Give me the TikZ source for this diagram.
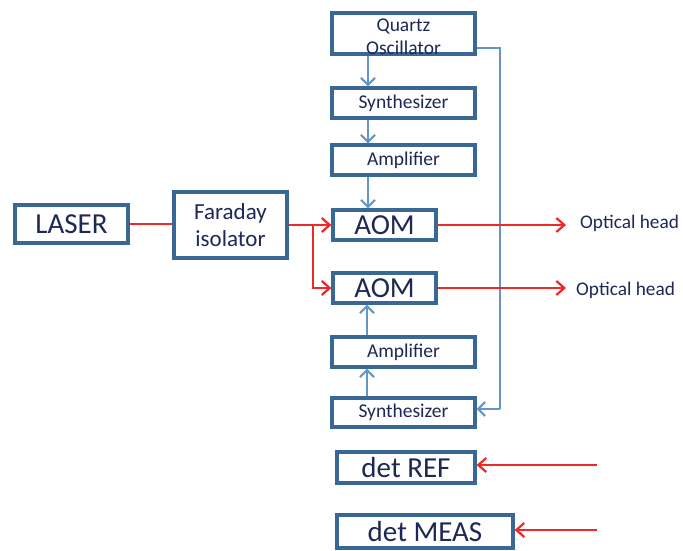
\documentclass[tikz,border=0pt]{standalone}
\usepackage{fontspec}
\setmainfont{Carlito}
\usetikzlibrary{arrows.meta}
\definecolor{boxc}{RGB}{58,104,148}
\definecolor{txtc}{RGB}{30,40,86}
\definecolor{bluea}{RGB}{100,148,200}
\definecolor{reda}{RGB}{240,40,40}
\tikzset{
  blk/.style={draw=boxc, line width=3.2pt, fill=white, inner sep=0pt, text=txtc, align=center},
  small/.style={blk, font=\fontsize{19.5}{23}\selectfont},
  big/.style={blk, font=\fontsize{29}{32}\selectfont},
  bluearr/.style={draw=bluea, line width=1.8pt, -{Straight Barb[length=7pt,width=14pt,line width=2.2pt]}},
  bluel/.style={draw=bluea, line width=1.3pt},
  redarr/.style={draw=reda, line width=1.6pt, -{Straight Barb[length=8pt,width=14pt,line width=2.2pt]}},
  redl/.style={draw=reda, line width=1.6pt},
  lbl/.style={text=txtc, font=\fontsize{19.3}{22}\selectfont, inner sep=0pt, anchor=west}
}
\begin{document}
\begin{tikzpicture}[x=1pt,y=-1pt]
\useasboundingbox[fill=white] (0,0) rectangle (683,551);
% upper chain
\node[small, minimum width=143pt, minimum height=41pt] (quartz) at (403.5,33.5) {};
\node[text=txtc, align=center, inner sep=0pt, font=\fontsize{19.5}{23}\selectfont] (quartzt) at (403.5,37) {Quartz\\Oscillator};
\node[small, minimum width=143pt, minimum height=30pt] (synth1) at (403.5,103) {Synthesizer};
\node[small, minimum width=143pt, minimum height=30pt] (amp1) at (403.5,160) {Amplifier};
\node[big, minimum width=103pt, minimum height=30pt] (aom1) at (384.5,225) {AOM};
\node[big, minimum width=103pt, minimum height=30pt] (aom2) at (384.5,288) {AOM};
\node[small, minimum width=143pt, minimum height=30pt] (amp2) at (403.5,352) {Amplifier};
\node[small, minimum width=143pt, minimum height=29pt] (synth2) at (403.5,412.5) {Synthesizer};
\node[big, minimum width=138pt, minimum height=31pt] (detref) at (406,467.5) {det REF};
\node[big, minimum width=176pt, minimum height=33pt] (detmeas) at (425,531.5) {det MEAS};
\node[big, minimum width=113pt, minimum height=38pt] (laser) at (71.5,224) {LASER};
\node[blk, minimum width=113pt, minimum height=66pt, font=\fontsize{23}{27}\selectfont] (faraday) at (230.5,225) {Faraday\\isolator};
\node[lbl] (oh1) at (580,223) {Optical head};
\node[lbl] (oh2) at (576,290) {Optical head};
% coordinates
\coordinate (cx) at (368,0);
\coordinate (cx2) at (367,0);
\coordinate (split) at (313,225);
\coordinate (fb1) at (500,48);
\coordinate (fb2) at (500,409);
\coordinate (rin) at (597,465);
\coordinate (min) at (597,530);
% blue signal arrows
\draw[bluearr] (quartz.south -| cx) -- (synth1.north -| cx);
\draw[bluearr] (synth1.south -| cx) -- (amp1.north -| cx);
\draw[bluearr] (amp1.south -| cx) -- (aom1.north -| cx);
\draw[bluearr] (synth2.north -| cx2) -- (amp2.south -| cx2);
\draw[bluearr] (amp2.north -| cx2) -- (aom2.south -| cx2);
\draw[bluel] (quartz.east |- fb1) -- (fb1) -- (fb2);
\draw[bluearr] (fb2) -- (synth2.east |- fb2);
% red optical paths
\draw[redl] (laser.east) -- (faraday.west |- laser.east);
\draw[redarr] (faraday.east |- split) -- (split) -- (aom1.west);
\draw[redarr] (split) |- (aom2.west);
\draw[redarr, shorten >=14pt] (aom1.east) -- (oh1.west |- aom1.east);
\draw[redarr, shorten >=10pt] (aom2.east) -- (oh2.west |- aom2.east);
\draw[redarr] (rin) -- (detref.east |- rin);
\draw[redarr] (min) -- (detmeas.east |- min);
\end{tikzpicture}
\end{document}
